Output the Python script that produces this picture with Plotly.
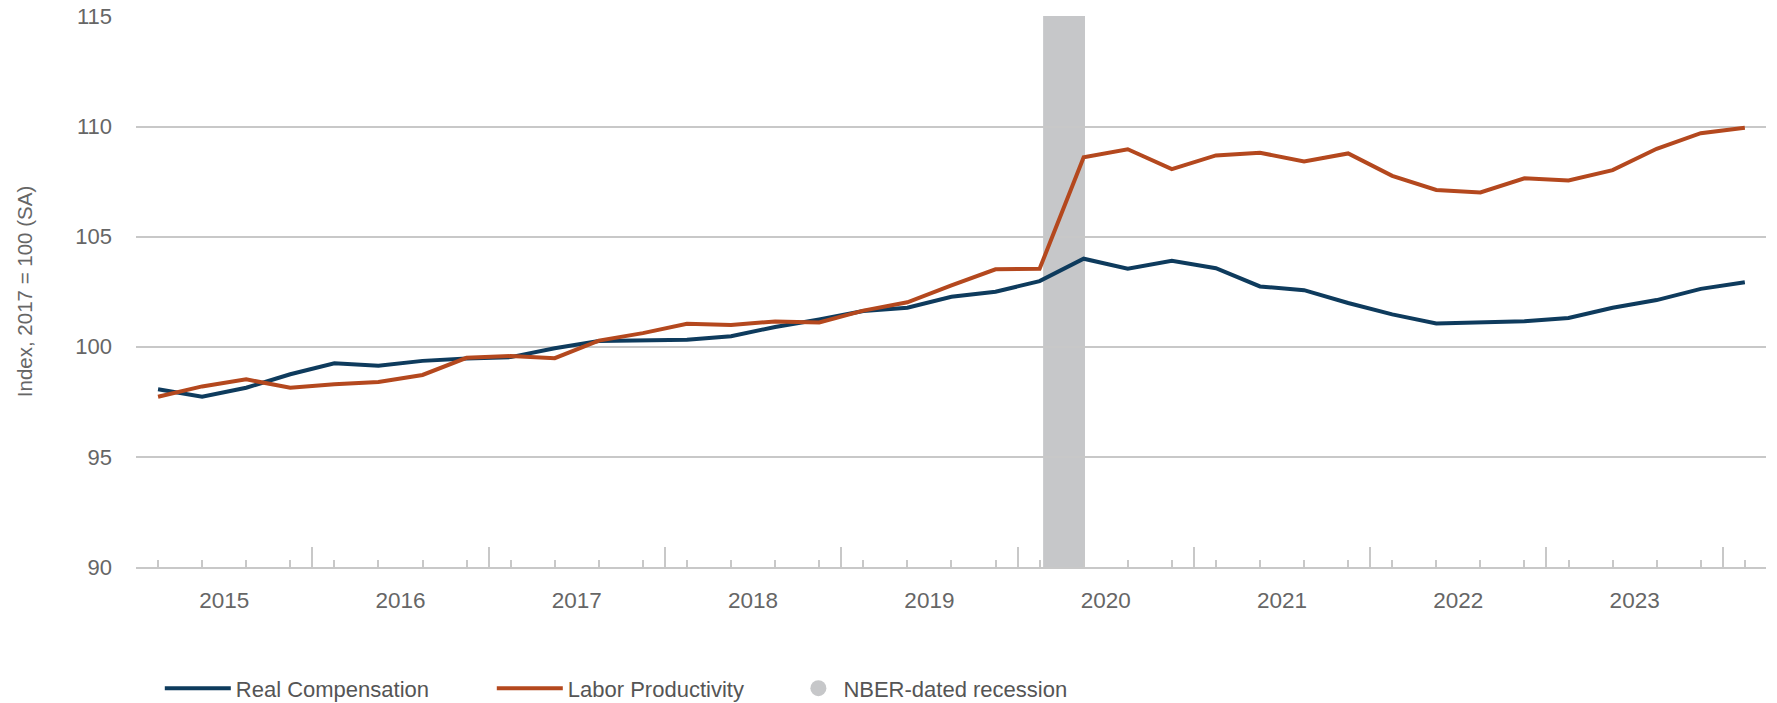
import plotly.graph_objects as go

quarters = [f"{y}Q{q}" for y in range(2015, 2025) for q in range(1, 5)][:37]
years = [str(y) for y in range(2015, 2024)]

real_compensation = [
    98.07, 97.73, 98.14, 98.75, 99.25, 99.14, 99.36, 99.47, 99.53, 99.93,
    100.26, 100.29, 100.32, 100.48, 100.90, 101.24, 101.62, 101.77, 102.27, 102.50,
    102.98, 104.00, 103.55, 103.90, 103.57, 102.74, 102.57, 101.99, 101.47, 101.06,
    101.09, 101.16, 101.31, 101.77, 102.12, 102.63, 102.93,
]
labor_productivity = [
    97.73, 98.20, 98.52, 98.14, 98.30, 98.40, 98.72, 99.50, 99.58, 99.48,
    100.28, 100.62, 101.04, 100.99, 101.15, 101.10, 101.64, 102.02, 102.79, 103.52,
    103.54, 108.60, 108.97, 108.07, 108.69, 108.81, 108.42, 108.78, 107.76, 107.12,
    107.01, 107.65, 107.55, 108.02, 108.99, 109.70, 109.95,
]
recession_start = "2020Q1"
recession_end = "2020Q2"

BLUE = "#0e3b5d"
ORANGE = "#b4481e"
GRID = "#c8c8c8"
REC = "#c6c7c9"
TXT = "#666666"
FONT = "Liberation Sans, Arial, sans-serif"

xpos = list(range(len(quarters)))
year_centers = [4 * k + 1.5 for k in range(len(years))]
year_bounds = [4 * k - 0.5 for k in range(len(years) + 1)]

fig = go.Figure()
fig.add_trace(go.Scatter(x=xpos, y=real_compensation, mode="lines", name="Real Compensation",
                         line=dict(color=BLUE, width=4), hovertext=quarters))
fig.add_trace(go.Scatter(x=xpos, y=labor_productivity, mode="lines", name="Labor Productivity",
                         line=dict(color=ORANGE, width=4), hovertext=quarters))
fig.add_trace(go.Scatter(x=[None], y=[None], mode="markers", name="NBER-dated recession",
                         marker=dict(color=REC, size=19, symbol="circle"), legend="legend2"))
fig.add_trace(go.Scatter(x=[None], y=[None], xaxis="x2", showlegend=False, hoverinfo="skip"))

rs = quarters.index(recession_start)
re_ = quarters.index(recession_end)
fig.add_shape(type="rect", xref="x", yref="paper", x0=rs + 0.08, x1=re_ + 0.03, y0=0, y1=1,
              fillcolor=REC, line=dict(width=0), layer="between")

xrange = [-0.5, 36.48]
fig.update_layout(
    width=1777, height=703,
    margin=dict(l=136, r=11, t=16, b=136, autoexpand=False),
    paper_bgcolor="white", plot_bgcolor="white",
    font=dict(family=FONT, size=22, color=TXT),
    showlegend=True,
    legend=dict(orientation="h", x=0.0146, y=-0.2203, xanchor="left", yanchor="middle",
                font=dict(size=22, color="#555555"), entrywidth=251, entrywidthmode="pixels",
                itemwidth=66, bgcolor="rgba(0,0,0,0)"),
    legend2=dict(orientation="h", x=0.4033, y=-0.2203, xanchor="left", yanchor="middle",
                 font=dict(size=22, color="#555555"), itemwidth=40, bgcolor="rgba(0,0,0,0)"),
    xaxis=dict(range=xrange, tickmode="array", tickvals=year_bounds, showticklabels=False,
               ticks="inside", ticklen=20, tickwidth=2, tickcolor=GRID, automargin=False,
               showline=True, linecolor=GRID, linewidth=2, showgrid=False, zeroline=False,
               minor=dict(ticks="inside", ticklen=7, tickwidth=2, tickcolor=GRID, tick0=0, dtick=1,
                          showgrid=False)),
    xaxis2=dict(range=xrange, overlaying="x", anchor="y", side="bottom", tickmode="array",
                tickvals=year_centers, ticktext=years, ticks="", showline=False, showgrid=False,
                zeroline=False, ticklabelstandoff=17, automargin=False,
                tickfont=dict(size=22.5, color=TXT)),
    yaxis=dict(range=[90, 115.02], tickmode="linear", tick0=90, dtick=5, showgrid=True,
               gridcolor=GRID, gridwidth=2, zeroline=False, showline=False, ticks="",
               ticklabelstandoff=23, ticklabeloverflow="allow", automargin=False,
               tickfont=dict(size=22, color=TXT),
               title=dict(text="Index, 2017 = 100 (SA)", standoff=37,
                          font=dict(size=20.5, color=TXT))),
)

# remove the default 8px page margin so the 1777x703 figure fills the window exactly
fig.write_html("out.html", config={"displayModeBar": False},
               post_script="document.body.style.margin='0';")
